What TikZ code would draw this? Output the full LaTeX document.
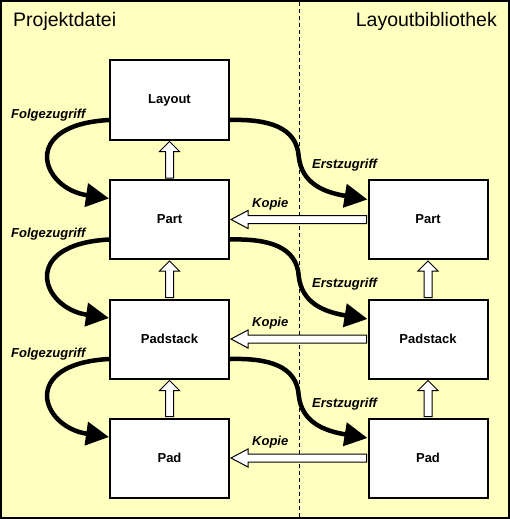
\documentclass[tikz,border=0pt]{standalone}
\usepackage{fontspec}
\setmainfont{Liberation Sans}
\usetikzlibrary{calc,arrows.meta}
\definecolor{bgyellow}{HTML}{FFFFC0}
\tikzset{
  box/.style={draw=black, line width=2pt, fill=white, minimum width=119pt, minimum height=79pt, inner sep=0pt,
    font=\fontsize{13}{15}\selectfont\bfseries},
  access/.style={line width=4.5pt, -{Triangle[length=23pt,width=23pt]}},
  lbl/.style={font=\fontsize{13}{15}\selectfont\bfseries\itshape, inner sep=0pt, anchor=base west},
  title/.style={font=\fontsize{19.5}{22}\selectfont, inner sep=0pt},
  blockarrow/.style={draw=black, line width=1pt, fill=white, line join=miter},
}
\begin{document}
\begin{tikzpicture}[x=1pt,y=-1pt]
\fill[bgyellow] (0,0) rectangle (510,519);
\useasboundingbox (0,0) rectangle (510,519);
\draw[line width=2pt] (1,1) rectangle (508.5,518);
\coordinate (dtop) at (299,2);
\coordinate (dbot) at (299,517);
\draw[dashed, dash pattern=on 4pt off 3pt, line width=1pt] (dtop) -- (dbot);

% titles
\node[title, anchor=base west] (tproj) at (13,27) {Projektdatei};
\node[title, anchor=base east] (tlib) at (497,27) {Layoutbibliothek};

% boxes
\node[box] (layout) at (169.5,100) {Layout};
\node[box] (partL) at (169.5,219.5) {Part};
\node[box] (padstackL) at (169.5,339) {Padstack};
\node[box] (padL) at (169.5,458) {Pad};
\node[box] (partR) at (428,219.5) {Part};
\node[box] (padstackR) at (428,339) {Padstack};
\node[box] (padR) at (428,458) {Pad};

% up block arrows
\foreach \b/\t in {partL/layout, padstackL/partL, padL/padstackL, padstackR/partR, padR/padstackR}{
  \draw[blockarrow] ($(\b.north)+(-4,-1)$) -- ($(\t.south)+(-4,11)$) -- ($(\t.south)+(-10,11)$) -- ($(\t.south)+(0,1)$)
    -- ($(\t.south)+(10,11)$) -- ($(\t.south)+(4,11)$) -- ($(\b.north)+(4,-1)$) -- cycle;
}
% Kopie block arrows
\foreach \r/\l in {partR/partL, padstackR/padstackL, padR/padL}{
  \draw[blockarrow] ($(\r.west)+(-1,-4)$) -- ($(\l.east)+(18,-4)$) -- ($(\l.east)+(18,-9)$) -- ($(\l.east)+(1,0)$)
    -- ($(\l.east)+(18,9)$) -- ($(\l.east)+(18,4)$) -- ($(\r.west)+(-1,4)$) -- cycle;
  \node[lbl] at ($(\l.east)+(22,-12.5)$) {Kopie};
}

% Folgezugriff curves
\foreach \a/\b in {layout/partL, partL/padstackL, padstackL/padL}{
  \draw[access] ($(\a.west)+(0,20)$) .. controls ($(\a.west)+(-90,25)$) and ($(\b.west)+(-68,-31)$) .. ($(\b.west)+(0,-21)$);
  \node[lbl] at ($(\a.west)+(-98,18)$) {Folgezugriff};
}
% Erstzugriff curves
\foreach \a/\b in {layout/partR, partL/padstackR, padstackL/padR}{
  \coordinate (m) at ($(\a.east)!0.5!(\b.west)+(0,-3)$);
  \draw[access] ($(\a.east)+(0,20)$) .. controls ($(\a.east)+(38,19)$) and ($(m)+(-2,-30)$) .. (m)
     .. controls ($(m)+(3,27)$) and ($(\b.west)+(-43,-27)$) .. ($(\b.west)+(0,-20)$);
  \node[lbl] at ($(\a.east)+(82,68)$) {Erstzugriff};
}
\end{tikzpicture}
\end{document}
